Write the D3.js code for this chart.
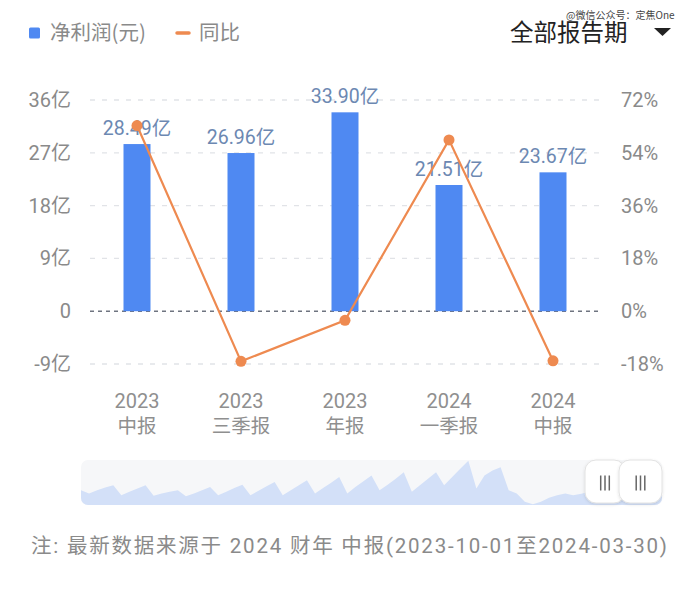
<!DOCTYPE html>
<html><head><meta charset="utf-8">
<script src="https://cdn.jsdelivr.net/npm/d3@7"></script>
<style>
html,body{margin:0;padding:0;background:#fff;}
svg{display:block;font-family:Roboto,"Noto Sans CJK SC",sans-serif;}
</style></head>
<body><svg id="c" width="700" height="595"></svg>
<script>
// ---- data ----
const categories = [["2023","中报"],["2023","三季报"],["2023","年报"],["2024","一季报"],["2024","中报"]];
const netProfit = [28.49, 26.96, 33.90, 21.51, 23.67];      // 亿元
const yoy = [63.3, -17.1, -3.1, 58.4, -16.9];              // %
const leftTicks = [-9, 0, 9, 18, 27, 36];
const leftTickLabels = ["-9亿","0","9亿","18亿","27亿","36亿"];
const rightTicks = [-18, 0, 18, 36, 54, 72];
const rightTickLabels = ["-18%","0%","18%","36%","54%","72%"];
const overviewSeries = [45,35,45,53,60,30,40,50,60,28,35,40,45,27,35,45,55,30,40,52,62,30,43,57,70,30,45,60,75,35,52,68,85,35,55,72,90,45,62,80,100,40,60,80,100,60,85,110,135,50,90,105,115,45,35,10,2,10,22,30,35,30,34,40,45,48,50,46,49,52,50,53,55];
const legendItems = ["净利润(元)","同比"];
const footnote = "注: 最新数据来源于 2024 财年 中报(2023-10-01至2024-03-30)";

const svg = d3.select("#c");
const BLUE = "#4f89f2", ORANGE = "#ee8a50";

const x = d3.scaleBand().domain(d3.range(categories.length)).range([85,605]);
const y = d3.scaleLinear().domain([-9,36]).range([364,100]);
const yR = d3.scaleLinear().domain([-18,72]).range([364,100]);

// gridlines
svg.append("g").selectAll("line").data(leftTicks).join("line")
  .attr("x1",90).attr("x2",602)
  .attr("y1",d=>y(d)).attr("y2",d=>y(d))
  .attr("stroke",d=>d===0?"#6f7480":"#e1e3e7")
  .attr("stroke-width",d=>d===0?1.6:1.3)
  .attr("stroke-dasharray",d=>d===0?"4,4":"5,7");

// left axis labels
const axL = d3.axisLeft(y).tickValues(leftTicks).tickFormat((d,i)=>leftTickLabels[i]).tickSize(0).tickPadding(0);
const gL = svg.append("g").attr("transform","translate(71,0)").call(axL);
gL.select(".domain").remove();
gL.selectAll("text").attr("font-size",20).attr("fill","#8a8a8a").attr("font-family","Roboto,'Noto Sans CJK SC',sans-serif");

const axR = d3.axisRight(yR).tickValues(rightTicks).tickFormat((d,i)=>rightTickLabels[i]).tickSize(0).tickPadding(0);
const gR = svg.append("g").attr("transform","translate(621,0)").call(axR);
gR.select(".domain").remove();
gR.selectAll("text").attr("font-size",20).attr("fill","#8a8a8a").attr("font-family","Roboto,'Noto Sans CJK SC',sans-serif");

// bars
const bw = 27;
svg.append("g").selectAll("rect").data(netProfit).join("rect")
  .attr("x",(d,i)=>x(i)+x.bandwidth()/2-bw/2)
  .attr("width",bw)
  .attr("y",d=>y(d)).attr("height",d=>y(0)-y(d))
  .attr("fill",BLUE);

// value labels
svg.append("g").selectAll("text").data(netProfit).join("text")
  .attr("x",(d,i)=>x(i)+x.bandwidth()/2)
  .attr("y",d=>y(d)-9)
  .attr("text-anchor","middle")
  .attr("font-size",19.5).attr("fill","#6c88b2")
  .text(d=>d.toFixed(2)+"亿");

// line
const line = d3.line().x((d,i)=>x(i)+x.bandwidth()/2).y(d=>yR(d));
svg.append("path").datum(yoy).attr("d",line).attr("fill","none").attr("stroke",ORANGE).attr("stroke-width",2.2);
svg.append("g").selectAll("circle").data(yoy).join("circle")
  .attr("cx",(d,i)=>x(i)+x.bandwidth()/2).attr("cy",d=>yR(d)).attr("r",5.5).attr("fill",ORANGE);

// x labels
const xl = svg.append("g").selectAll("text").data(categories).join("text")
  .attr("text-anchor","middle").attr("font-size",20).attr("fill","#8f8f8f");
xl.append("tspan").attr("x",(d,i)=>x(i)+x.bandwidth()/2).attr("y",408).text(d=>d[0]);
xl.append("tspan").attr("x",(d,i)=>x(i)+x.bandwidth()/2).attr("y",433).attr("font-family","'Noto Sans CJK SC',sans-serif").attr("font-size",19.5).text(d=>d[1]);

// legend
svg.append("rect").attr("x",29).attr("y",27.5).attr("width",11).attr("height",11).attr("rx",1.5).attr("fill",BLUE);
svg.append("text").attr("x",50).attr("y",40).attr("font-size",20.5).attr("fill","#8a8a8a")
  .attr("font-family","'Noto Sans CJK SC',sans-serif").text(legendItems[0]);
svg.append("line").attr("x1",177).attr("x2",189).attr("y1",33).attr("y2",33).attr("stroke",ORANGE).attr("stroke-width",3.5).attr("stroke-linecap","round");
svg.append("text").attr("x",199).attr("y",40).attr("font-size",20.5).attr("fill","#8a8a8a")
  .attr("font-family","'Noto Sans CJK SC',sans-serif").text(legendItems[1]);

// period selector
svg.append("text").attr("x",510).attr("y",40.5).attr("font-size",23.5).attr("fill","#222")
  .attr("font-family","'Noto Sans CJK SC',sans-serif").text("全部报告期");
svg.append("path").attr("d","M654,28 L671,28 L662.5,36 Z").attr("fill","#222");
svg.append("text").attr("x",566).attr("y",19).attr("font-size",10).attr("fill","#444")
  .attr("font-family","'Noto Sans CJK SC',sans-serif").text("@微信公众号：定焦One");

// overview slider
const defs = svg.append("defs");
defs.append("clipPath").attr("id","sc").append("rect").attr("x",81).attr("y",460).attr("width",581).attr("height",45).attr("rx",7);
const f = defs.append("filter").attr("id","sh").attr("x","-30%").attr("y","-30%").attr("width","160%").attr("height","160%");
f.append("feDropShadow").attr("dx",0).attr("dy",1).attr("stdDeviation",1.5).attr("flood-color","#000").attr("flood-opacity",0.12);
svg.append("rect").attr("x",81).attr("y",460).attr("width",581).attr("height",45).attr("rx",7).attr("fill","#f6f7f9");
const sx = d3.scaleLinear().domain([0,overviewSeries.length-1]).range([81,662]);
const sy = d3.scaleLinear().domain([0,140]).range([505,459]);
svg.append("path").datum(overviewSeries).attr("clip-path","url(#sc)")
  .attr("d",d3.area().x((d,i)=>sx(i)).y0(505).y1(d=>sy(d)))
  .attr("fill","#d3e0f8");
function handle(hx,w){
  svg.append("rect").attr("x",hx).attr("y",460).attr("width",w).attr("height",43).attr("rx",11)
    .attr("fill","#fff").attr("stroke","#e2e2e2").attr("stroke-width",1).attr("filter","url(#sh)");
  const cx = hx+w/2;
  [-4.3,0,4.3].forEach(o=>svg.append("line").attr("x1",cx+o).attr("x2",cx+o).attr("y1",475.5).attr("y2",490.5).attr("stroke","#666").attr("stroke-width",1.5));
}
handle(585,40);
handle(619,43);

// footnote
svg.append("text").attr("x",31).attr("y",553).attr("font-size",20.5).attr("fill","#8a8a8a")
  .attr("textLength",636).attr("lengthAdjust","spacing").text(footnote);
</script></body></html>
